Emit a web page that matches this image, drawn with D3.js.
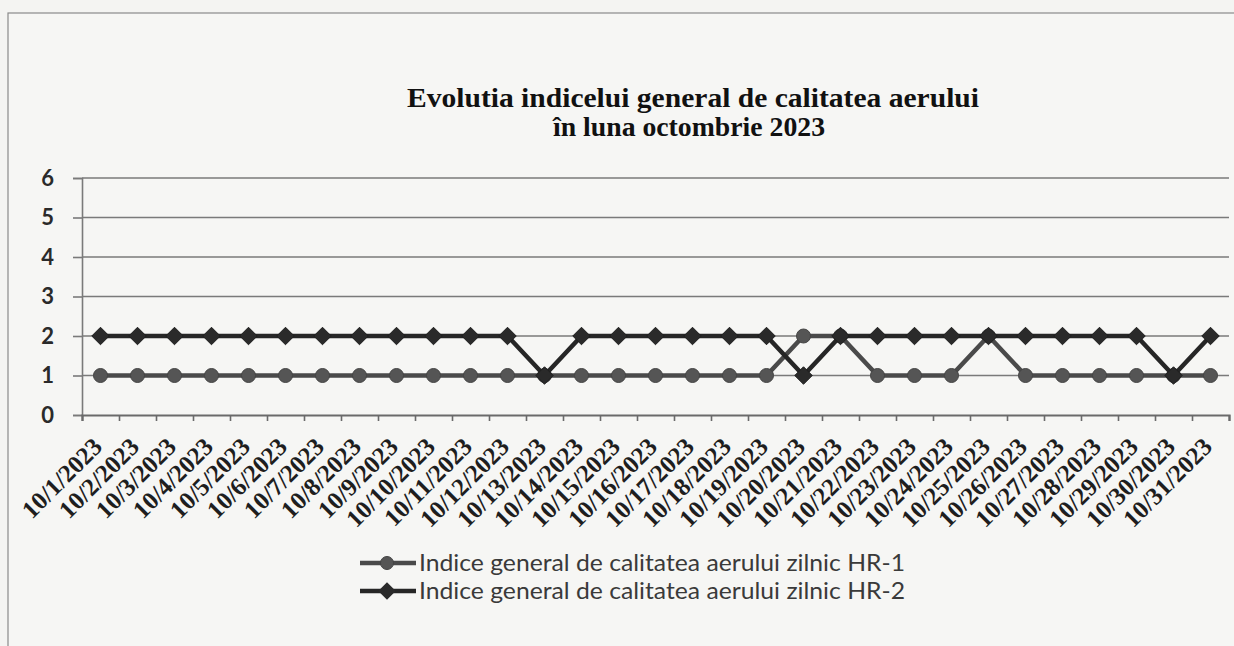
<!DOCTYPE html>
<html>
<head>
<meta charset="utf-8">
<script src="https://cdn.jsdelivr.net/npm/d3@7/dist/d3.min.js"></script>
<style>
  html, body { margin: 0; padding: 0; background: #f4f4f2; }
  svg { display: block; }
</style>
</head>
<body>
<svg id="chart" width="1234" height="646"></svg>
<script>
const categories = ["10/1/2023","10/2/2023","10/3/2023","10/4/2023","10/5/2023","10/6/2023","10/7/2023","10/8/2023","10/9/2023","10/10/2023","10/11/2023","10/12/2023","10/13/2023","10/14/2023","10/15/2023","10/16/2023","10/17/2023","10/18/2023","10/19/2023","10/20/2023","10/21/2023","10/22/2023","10/23/2023","10/24/2023","10/25/2023","10/26/2023","10/27/2023","10/28/2023","10/29/2023","10/30/2023","10/31/2023"];
const hr1 = [1,1,1,1,1,1,1,1,1,1,1,1,1,1,1,1,1,1,1,2,2,1,1,1,2,1,1,1,1,1,1];
const hr2 = [2,2,2,2,2,2,2,2,2,2,2,2,1,2,2,2,2,2,2,1,2,2,2,2,2,2,2,2,2,1,2];
const yTicks = [0,1,2,3,4,5,6];
const seriesNames = ["Indice general de calitatea aerului zilnic HR-1","Indice general de calitatea aerului zilnic HR-2"];
const titleLines = ["Evolutia indicelui general de calitatea aerului","în luna octombrie 2023"];

const svg = d3.select("#chart");
const plotLeft = 82, plotRight = 1229, plotTop = 178, plotBottom = 415;

// outer chart border (extends beyond the page)
svg.append("rect").attr("x", 8).attr("y", 13).attr("width", 1240).attr("height", 660)
  .attr("fill", "#f6f6f4").attr("stroke", "#8a8a8a").attr("stroke-width", 1.2);

const x = d3.scaleBand().domain(categories).range([plotLeft, plotRight]).paddingInner(0).paddingOuter(0);
const xTick = d3.scaleLinear().domain([0, categories.length]).range([plotLeft, plotRight]);
const y = d3.scaleLinear().domain([0, 6]).range([plotBottom, plotTop]);
const cx = c => x(c) + x.bandwidth() / 2;

// gridlines
svg.append("g").selectAll("line").data(yTicks.filter(t => t > 0)).join("line")
  .attr("x1", plotLeft).attr("x2", plotRight)
  .attr("y1", d => y(d)).attr("y2", d => y(d))
  .attr("stroke", "#7a7a7a").attr("stroke-width", 1.6);

// y axis
const yAxis = svg.append("g").attr("transform", `translate(${plotLeft},0)`)
  .call(d3.axisLeft(y).tickValues(yTicks).tickSize(9).tickPadding(19).tickFormat(d3.format("d")));
yAxis.select(".domain").attr("stroke", "#7a7a7a").attr("stroke-width", 1.6);
yAxis.selectAll(".tick line").attr("stroke", "#7a7a7a").attr("stroke-width", 1.6);
yAxis.selectAll("text").attr("font-family", "Lato, 'Open Sans', sans-serif")
  .attr("font-weight", "bold").attr("font-size", 22).attr("fill", "#2a2a2a");

// x axis
const xAxis = svg.append("g").attr("transform", `translate(0,${plotBottom})`)
  .call(d3.axisBottom(xTick).tickValues(d3.range(categories.length + 1)).tickSize(6).tickFormat(""));
xAxis.select(".domain").attr("stroke", "#6a6a6a").attr("stroke-width", 2.2);
xAxis.selectAll(".tick line").attr("stroke", "#6a6a6a").attr("stroke-width", 1.6);

// x labels rotated
svg.append("g").selectAll("text").data(categories).join("text")
  .attr("transform", d => `translate(${cx(d) - 3},${plotBottom + 27}) rotate(-45)`)
  .attr("text-anchor", "end").attr("dy", "0.35em")
  .attr("font-family", "'Liberation Serif', 'Times New Roman', serif")
  .attr("font-weight", "bold").attr("font-size", 25).attr("fill", "#1e1e1e")
  .text(d => d);

// lines
const line = d3.line().x((d, i) => cx(categories[i])).y(d => y(d));
svg.append("path").datum(hr1).attr("d", line).attr("fill", "none")
  .attr("stroke", "#4a4a4a").attr("stroke-width", 4.5);
svg.append("g").selectAll("circle").data(hr1).join("circle")
  .attr("cx", (d, i) => cx(categories[i])).attr("cy", d => y(d)).attr("r", 7)
  .attr("fill", "#555555").attr("stroke", "#444").attr("stroke-width", 1);

svg.append("path").datum(hr2).attr("d", line).attr("fill", "none")
  .attr("stroke", "#262626").attr("stroke-width", 4.5);
const diamond = d3.symbol().type(d3.symbolDiamond2).size(195);
svg.append("g").selectAll("path").data(hr2).join("path")
  .attr("transform", (d, i) => `translate(${cx(categories[i])},${y(d)})`)
  .attr("d", diamond).attr("fill", "#2a2a2a").attr("stroke", "#1e1e1e").attr("stroke-width", 1);

// title
svg.append("text").attr("x", 693).attr("y", 107).attr("text-anchor", "middle")
  .attr("font-family", "'Liberation Serif', 'Times New Roman', serif").attr("font-weight", "bold")
  .attr("font-size", 28).attr("fill", "#111").attr("textLength", 572).attr("lengthAdjust", "spacingAndGlyphs")
  .text(titleLines[0]);
svg.append("text").attr("x", 689).attr("y", 136).attr("text-anchor", "middle")
  .attr("font-family", "'Liberation Serif', 'Times New Roman', serif").attr("font-weight", "bold")
  .attr("font-size", 28).attr("fill", "#111").attr("textLength", 272).attr("lengthAdjust", "spacingAndGlyphs")
  .text(titleLines[1]);

// legend
const legendY = [563, 591];
const lg = svg.append("g");
seriesNames.forEach((name, i) => {
  const ly = legendY[i];
  lg.append("line").attr("x1", 360).attr("x2", 416).attr("y1", ly).attr("y2", ly)
    .attr("stroke", i === 0 ? "#4a4a4a" : "#262626").attr("stroke-width", 4.5);
  if (i === 0) {
    lg.append("circle").attr("cx", 387).attr("cy", ly).attr("r", 6.5).attr("fill", "#555").attr("stroke", "#444");
  } else {
    lg.append("path").attr("transform", `translate(387,${ly})`).attr("d", diamond).attr("fill", "#2a2a2a");
  }
  lg.append("text").attr("x", 419).attr("y", ly).attr("dy", "0.35em")
    .attr("font-family", "Lato, 'Open Sans', sans-serif").attr("font-size", 23).attr("fill", "#3a3a3a")
    .attr("textLength", 486).attr("lengthAdjust", "spacingAndGlyphs")
    .text(name);
});
</script>
</body>
</html>
